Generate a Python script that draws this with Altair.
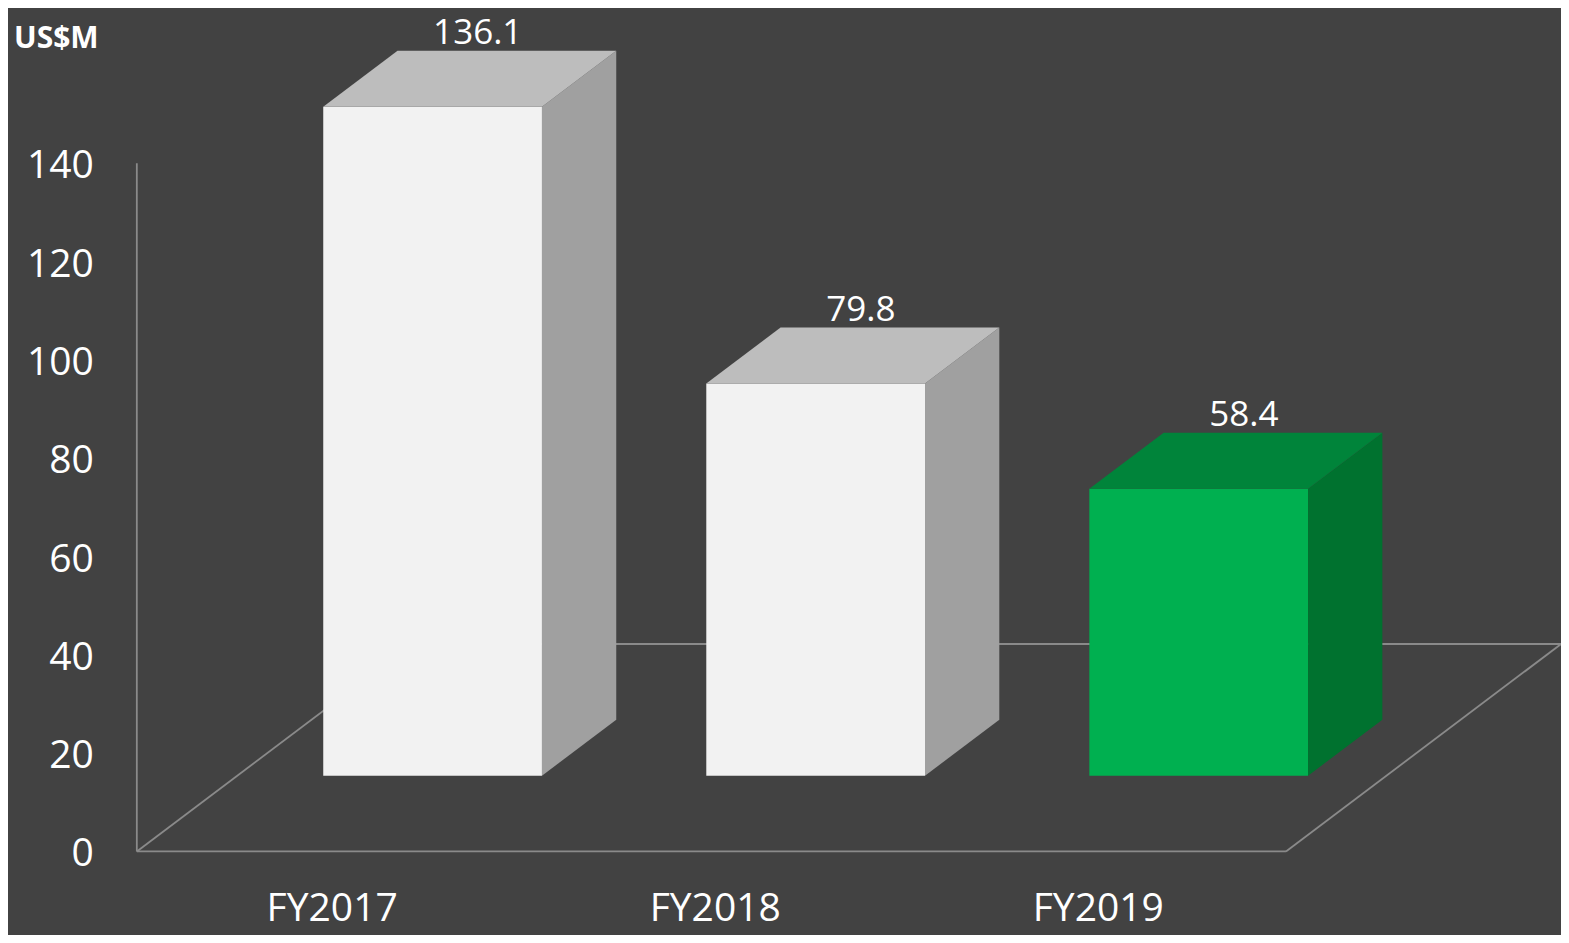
import altair as alt
import pandas as pd

# ---- data ----
categories = ["FY2017", "FY2018", "FY2019"]
values = [136.1, 79.8, 58.4]
front_colors = ["#F2F2F2", "#F2F2F2", "#00B050"]
top_colors = ["#BDBDBD", "#BDBDBD", "#00843A"]
side_colors = ["#A0A0A0", "#A0A0A0", "#00722F"]
y_ticks = [0, 20, 40, 60, 80, 100, 120, 140]
unit_label = "US$M"

# ---- 3D geometry (style constants) ----
DEPTH_X = 0.7183      # floor depth expressed in category units
DEPTH_Y = 42.2        # floor depth expressed in value units
D_FRONT, D_BACK = 0.365, 0.635
HALF_W = 0.2855
FLOOR_L, FLOOR_R = -0.51, 2.49
FONT = "Open Sans"
LINE_COLOR = "#8A8A8A"
BG = "#424242"

xs = alt.Scale(domain=[-0.8463, 3.208], nice=False, zero=False)
ys = alt.Scale(domain=[-17.0, 171.6], nice=False, zero=False)

# front faces
front = pd.DataFrame({
    "cat": categories,
    "x1": [i - HALF_W + DEPTH_X * D_FRONT for i in range(len(values))],
    "x2": [i + HALF_W + DEPTH_X * D_FRONT for i in range(len(values))],
    "y1": [DEPTH_Y * D_FRONT for _ in values],
    "y2": [v + DEPTH_Y * D_FRONT for v in values],
    "c": front_colors,
})

# side and top faces (parallelograms)
side_rows, top_rows = [], []
for i, (cat, v) in enumerate(zip(categories, values)):
    for d in (D_FRONT, D_BACK):
        side_rows.append({"cat": cat, "x": i + HALF_W + DEPTH_X * d,
                          "top": v + DEPTH_Y * d, "bot": DEPTH_Y * d,
                          "c": side_colors[i]})
        top_rows.append({"cat": cat, "y": v + DEPTH_Y * d,
                         "xl": i - HALF_W + DEPTH_X * d,
                         "xr": i + HALF_W + DEPTH_X * d,
                         "c": top_colors[i]})
side = pd.DataFrame(side_rows)
top = pd.DataFrame(top_rows)

# floor + axis lines
floor = pd.DataFrame([
    {"xa": FLOOR_L, "ya": 0, "xb": FLOOR_R, "yb": 0},
    {"xa": FLOOR_R, "ya": 0, "xb": FLOOR_R + DEPTH_X, "yb": DEPTH_Y},
    {"xa": FLOOR_L + DEPTH_X, "ya": DEPTH_Y, "xb": FLOOR_R + DEPTH_X, "yb": DEPTH_Y},
    {"xa": FLOOR_L, "ya": 0, "xb": FLOOR_L + DEPTH_X, "yb": DEPTH_Y},
    {"xa": FLOOR_L, "ya": 0, "xb": FLOOR_L, "yb": max(y_ticks)},
])

labels = pd.DataFrame({
    "cat": categories,
    "x": [i + DEPTH_X * (D_FRONT + D_BACK) / 2 for i in range(len(values))],
    "y": [v + DEPTH_Y * D_BACK for v in values],
    "txt": [f"{v:.1f}" for v in values],
})
cats = pd.DataFrame({"cat": categories, "x": list(range(len(categories))),
                     "y": [0] * len(categories)})
ticks = pd.DataFrame({"t": y_ticks, "x": [FLOOR_L] * len(y_ticks),
                      "lbl": [str(t) for t in y_ticks]})

floor_layer = alt.Chart(floor).mark_rule(color=LINE_COLOR, strokeWidth=1.8).encode(
    x=alt.X("xa:Q", scale=xs, axis=None), y=alt.Y("ya:Q", scale=ys, axis=None),
    x2="xb:Q", y2="yb:Q")

front_layer = alt.Chart(front).mark_rect().encode(
    x=alt.X("x1:Q", scale=xs, axis=None), x2="x2:Q",
    y=alt.Y("y1:Q", scale=ys, axis=None), y2="y2:Q",
    color=alt.Color("c:N", scale=None))

side_layer = alt.Chart(side).mark_area(orient="vertical", interpolate="linear").encode(
    x=alt.X("x:Q", scale=xs, axis=None),
    y=alt.Y("top:Q", scale=ys, axis=None, stack=None), y2="bot:Q",
    detail="cat:N", color=alt.Color("c:N", scale=None))

top_layer = alt.Chart(top).mark_area(orient="horizontal", interpolate="linear").encode(
    y=alt.Y("y:Q", scale=ys, axis=None),
    x=alt.X("xl:Q", scale=xs, axis=None, stack=None), x2="xr:Q",
    detail="cat:N", color=alt.Color("c:N", scale=None))

value_layer = alt.Chart(labels).mark_text(
    font=FONT, fontSize=35, color="white", baseline="bottom", align="center",
    dx=8, dy=0).encode(
    x=alt.X("x:Q", scale=xs, axis=None), y=alt.Y("y:Q", scale=ys, axis=None),
    text="txt:N")

cat_layer = alt.Chart(cats).mark_text(
    font=FONT, fontSize=39, color="white", baseline="middle", align="center",
    dy=58).encode(
    x=alt.X("x:Q", scale=xs, axis=None), y=alt.Y("y:Q", scale=ys, axis=None),
    text="cat:N")

tick_layer = alt.Chart(ticks).mark_text(
    font=FONT, fontSize=39, color="white", baseline="middle", align="right",
    dx=-43, dy=3).encode(
    x=alt.X("x:Q", scale=xs, axis=None), y=alt.Y("t:Q", scale=ys, axis=None),
    text="lbl:N")

unit_layer = alt.Chart(pd.DataFrame({"u": [unit_label]})).mark_text(
    font=FONT, fontSize=30, fontWeight="bold", color="white",
    baseline="alphabetic", align="left").encode(
    x=alt.value(6), y=alt.value(40), text="u:N")

chart = alt.layer(
    floor_layer, front_layer, side_layer, top_layer,
    value_layer, cat_layer, tick_layer, unit_layer
).properties(
    width=1553, height=927, padding=0, autosize="none", background=BG
).configure_view(strokeWidth=0)

chart.save("out.html", embed_options={"renderer": "svg", "actions": False})
